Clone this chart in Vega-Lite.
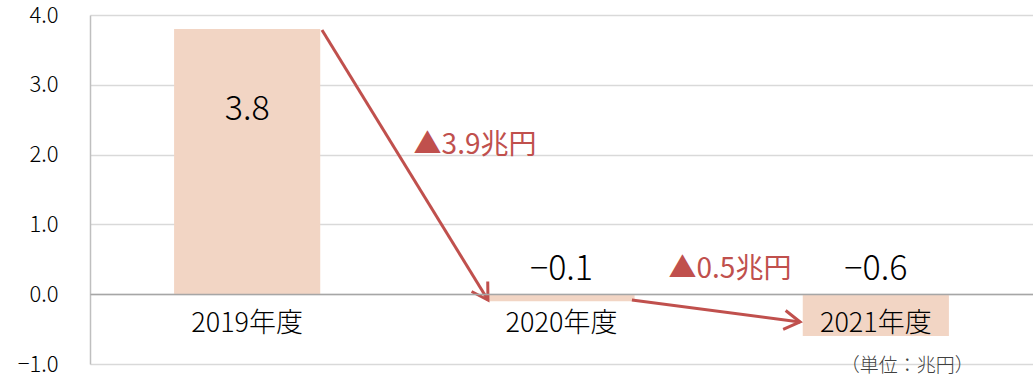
{
  "$schema": "https://vega.github.io/schema/vega-lite/v6.json",
  "autosize": "none",
  "width": 943,
  "height": 349,
  "padding": {"left": 90, "top": 15, "right": 0, "bottom": 14},
  "background": "white",
  "config": {
    "view": {"stroke": null},
    "font": "Noto Sans CJK JP",
    "text": {"font": "Noto Sans CJK JP"}
  },
  "datasets": {
    "bars": [
      {"year": "2019年度", "value": 3.8, "label": "3.8"},
      {"year": "2020年度", "value": -0.1, "label": "−0.1"},
      {"year": "2021年度", "value": -0.6, "label": "−0.6"}
    ],
    "arrows": [
      {"id": "a1", "x": 0.738, "y": 3.785},
      {"id": "a1", "x": 1.266, "y": -0.083},
      {"id": "a2", "x": 1.724, "y": -0.083},
      {"id": "a2", "x": 2.259, "y": -0.398}
    ],
    "notes": [
      {"x": 1.225, "y": 2.12, "text": "▲3.9兆円"},
      {"x": 2.036, "y": 0.347, "text": "▲0.5兆円"}
    ]
  },
  "resolve": {"scale": {"x": "independent"}, "axis": {"x": "independent"}},
  "layer": [
    {
      "data": {"name": "bars"},
      "layer": [
        {
          "mark": {"type": "bar", "color": "#F2D5C4"},
          "encoding": {
            "x": {
              "field": "year", "type": "nominal", "sort": null,
              "scale": {"paddingInner": 0.535, "paddingOuter": 0.2675},
              "axis": {
                "title": null, "orient": "bottom", "offset": -70, "labelAngle": 0,
                "ticks": false, "labelFontSize": 27, "labelFontWeight": 300, "labelColor": "#000000",
                "labelPadding": 16, "domainColor": "#A6A6A6", "domainWidth": 1.5,
                "labelFont": "Noto Sans CJK JP", "grid": false, "zindex": 1
              }
            },
            "y": {
              "field": "value", "type": "quantitative",
              "scale": {"domain": [-1, 4], "nice": false, "zero": false},
              "axis": {
                "title": null, "values": [-1, 0, 1, 2, 3, 4], "format": ".1f",
                "ticks": false, "labelFontSize": 22, "labelFontWeight": 300, "labelColor": "#000000",
                "labelPadding": 32, "domainColor": "#BFBFBF", "gridColor": "#D9D9D9",
                "gridWidth": 1.5, "domainWidth": 1.5, "labelFont": "Noto Sans CJK JP"
              }
            }
          }
        },
        {
          "transform": [{"filter": "datum.value > 0"}],
          "mark": {"type": "text", "fontSize": 34, "fontWeight": 300, "color": "#000000", "baseline": "middle"},
          "encoding": {
            "x": {"field": "year", "type": "nominal", "sort": null},
            "y": {"datum": 2.64},
            "text": {"field": "label"}
          }
        },
        {
          "transform": [{"filter": "datum.value < 0"}],
          "mark": {"type": "text", "fontSize": 34, "fontWeight": 300, "color": "#000000", "baseline": "middle"},
          "encoding": {
            "x": {"field": "year", "type": "nominal", "sort": null},
            "y": {"datum": 0.347},
            "text": {"field": "label"}
          }
        }
      ]
    },
    {
      "layer": [
        {
          "data": {"name": "arrows"},
          "mark": {"type": "line", "color": "#C0504D", "strokeWidth": 3},
          "encoding": {
            "x": {"field": "x", "type": "quantitative", "scale": {"domain": [0, 3], "nice": false, "zero": false}, "axis": null},
            "y": {"field": "y", "type": "quantitative"},
            "detail": {"field": "id"}
          }
        },
        {
          "data": {"name": "arrows"},
          "transform": [{"filter": "datum.id == 'a1' && datum.y < 0"}],
          "mark": {"type": "point", "shape": "M -1 -0.6 L 0 0 L -1 0.6", "filled": false, "stroke": "#C0504D", "strokeWidth": 3, "size": 1000, "angle": 58.4, "opacity": 1},
          "encoding": {
            "x": {"field": "x", "type": "quantitative", "axis": null},
            "y": {"field": "y", "type": "quantitative"}
          }
        },
        {
          "data": {"name": "arrows"},
          "transform": [{"filter": "datum.id == 'a2' && datum.y < -0.2"}],
          "mark": {"type": "point", "shape": "M -1 -0.6 L 0 0 L -1 0.6", "filled": false, "stroke": "#C0504D", "strokeWidth": 3, "size": 1000, "angle": 7.5, "opacity": 1},
          "encoding": {
            "x": {"field": "x", "type": "quantitative", "axis": null},
            "y": {"field": "y", "type": "quantitative"}
          }
        },
        {
          "data": {"name": "notes"},
          "mark": {"type": "text", "fontSize": 28, "color": "#C0504D", "baseline": "middle"},
          "encoding": {
            "x": {"field": "x", "type": "quantitative", "axis": null},
            "y": {"field": "y", "type": "quantitative"},
            "text": {"field": "text"}
          }
        },
        {
          "data": {"values": [{"text": "（単位：兆円）"}]},
          "mark": {"type": "text", "fontSize": 19, "fontWeight": 300, "color": "#404040", "baseline": "middle"},
          "encoding": {
            "x": {"datum": 2.6, "type": "quantitative", "axis": null},
            "y": {"datum": -1.035, "type": "quantitative"},
            "text": {"field": "text"}
          }
        }
      ]
    }
  ]
}
